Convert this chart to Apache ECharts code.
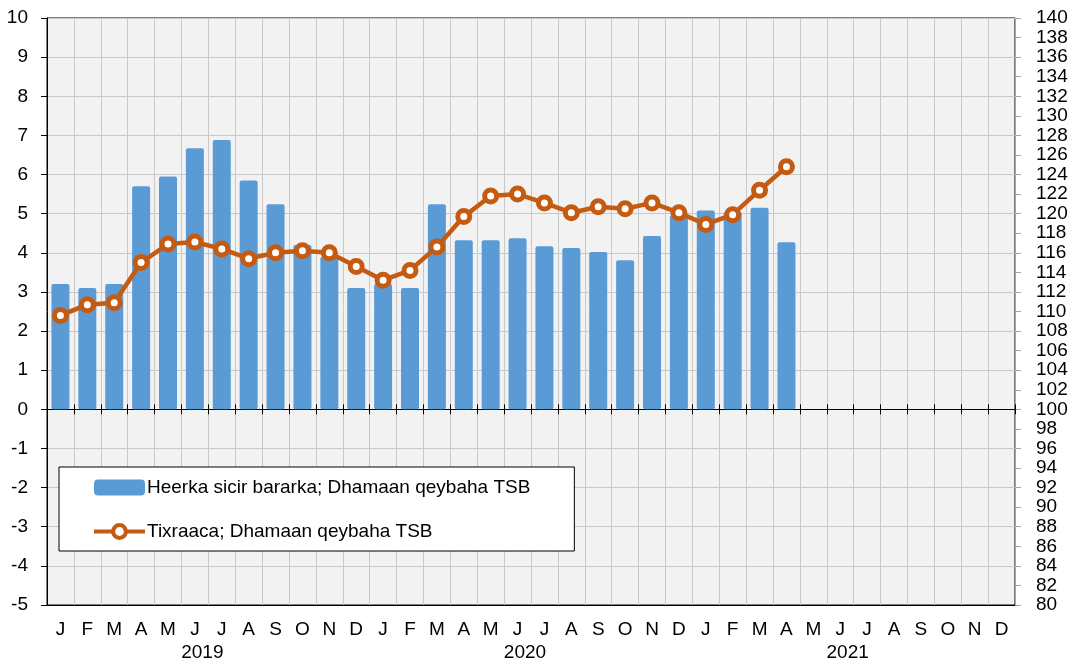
<!DOCTYPE html>
<html>
<head>
<meta charset="utf-8">
<script src="https://cdn.jsdelivr.net/npm/echarts@6/dist/echarts.min.js"></script>
<style>
html,body{margin:0;padding:0;background:#fff;}
#chart{width:1072px;height:663px;}
</style>
</head>
<body>
<div id="chart"></div>
<script>
var months = ['J','F','M','A','M','J','J','A','S','O','N','D',
              'J','F','M','A','M','J','J','A','S','O','N','D',
              'J','F','M','A','M','J','J','A','S','O','N','D'];
var years = ['2019','2020','2021'];
var barName = 'Heerka sicir bararka; Dhamaan qeybaha TSB';
var lineName = 'Tixraaca; Dhamaan qeybaha TSB';
var barValues = [3.2,3.1,3.2,5.7,5.95,6.67,6.88,5.85,5.24,4.2,3.9,3.1,
                 3.2,3.1,5.24,4.32,4.32,4.37,4.17,4.12,4.02,3.81,4.43,4.95,
                 5.08,5.05,5.15,4.27];
var lineValues = [109.6,110.7,110.9,115.0,116.9,117.1,116.4,115.4,116.0,116.2,116.0,114.6,
                  113.2,114.2,116.6,119.7,121.8,122.0,121.1,120.1,120.7,120.5,121.1,120.1,
                  118.9,119.9,122.4,124.8];

var FONT = '"Liberation Sans", Arial, sans-serif';
var ORANGE = '#C55A11';
var chart = echarts.init(document.getElementById('chart'));
var option = {
  animation: false,
  textStyle: {fontFamily: FONT, color: '#000'},
  grid: {left: 47, right: 57, top: 18, bottom: 58, show: true,
         backgroundColor: '#F2F2F2', borderColor: '#000', borderWidth: 1},
  legend: {
    left: 59, top: 467, orient: 'vertical',
    backgroundColor: '#fff', borderColor: '#000', borderWidth: 1,
    padding: [11, 44, 10, 33], itemGap: 25, itemWidth: 51, itemHeight: 16,
    textStyle: {fontSize: 19, color: '#000', fontFamily: FONT, padding: [0, 0, 0, -3]},
    data: [
      {name: barName},
      {name: lineName,
       itemStyle: {color: '#fff', borderColor: ORANGE, borderWidth: 4},
       lineStyle: {color: ORANGE, width: 4}}
    ]
  },
  xAxis: [
    {type: 'category', data: months, position: 'bottom',
     axisLine: {onZero: false, lineStyle: {color: '#000', width: 1}},
     axisTick: {show: false},
     splitLine: {show: true, interval: 0, lineStyle: {color: '#C8C8C8', width: 1}},
     axisLabel: {interval: 0, fontSize: 19, color: '#000', margin: 15, fontFamily: FONT}},
    {type: 'category', data: months, position: 'bottom',
     axisLine: {onZero: true, onZeroAxisIndex: 0, lineStyle: {color: '#000', width: 1}},
     axisTick: {show: true, interval: 0, length: 5, inside: false, lineStyle: {color: '#000'}},
     axisLabel: {show: false}, splitLine: {show: false}},
    {type: 'category', data: months, position: 'bottom',
     axisLine: {onZero: true, onZeroAxisIndex: 0, lineStyle: {color: '#000', width: 1}},
     axisTick: {show: true, interval: 0, length: 5, inside: true, lineStyle: {color: '#000'}},
     axisLabel: {show: false}, splitLine: {show: false}},
    {type: 'category', data: years, position: 'bottom',
     axisLine: {show: false, onZero: false}, axisTick: {show: false}, splitLine: {show: false},
     axisLabel: {interval: 0, fontSize: 19, color: '#000', margin: 38, padding: [0, 12, 0, 0], fontFamily: FONT}}
  ],
  yAxis: [
    {type: 'value', min: -5, max: 10, interval: 1, position: 'left',
     axisLine: {show: true, lineStyle: {color: '#000', width: 1}},
     axisTick: {show: true, length: 6, lineStyle: {color: '#000'}},
     splitLine: {show: true, lineStyle: {color: '#C8C8C8', width: 1}},
     axisLabel: {fontSize: 19, color: '#000', margin: 19, fontFamily: FONT}},
    {type: 'value', min: 80, max: 140, interval: 2, position: 'right',
     axisLine: {show: true, lineStyle: {color: '#A6A6A6', width: 1}},
     axisTick: {show: true, length: 6, lineStyle: {color: '#A6A6A6'}},
     splitLine: {show: false},
     axisLabel: {fontSize: 19, color: '#000', margin: 21, fontFamily: FONT}}
  ],
  series: [
    {name: barName, type: 'bar', xAxisIndex: 0, yAxisIndex: 0, data: barValues,
     barWidth: 18, itemStyle: {color: '#5B9BD5', borderRadius: 2}, z: 2},
    {name: lineName, type: 'line', xAxisIndex: 0, yAxisIndex: 1, data: lineValues,
     symbol: 'circle', symbolSize: 12, showAllSymbol: true,
     lineStyle: {color: ORANGE, width: 4.5},
     itemStyle: {color: '#fff', borderColor: ORANGE, borderWidth: 5}, z: 5}
  ]
};
chart.setOption(option);
</script>
</body>
</html>
